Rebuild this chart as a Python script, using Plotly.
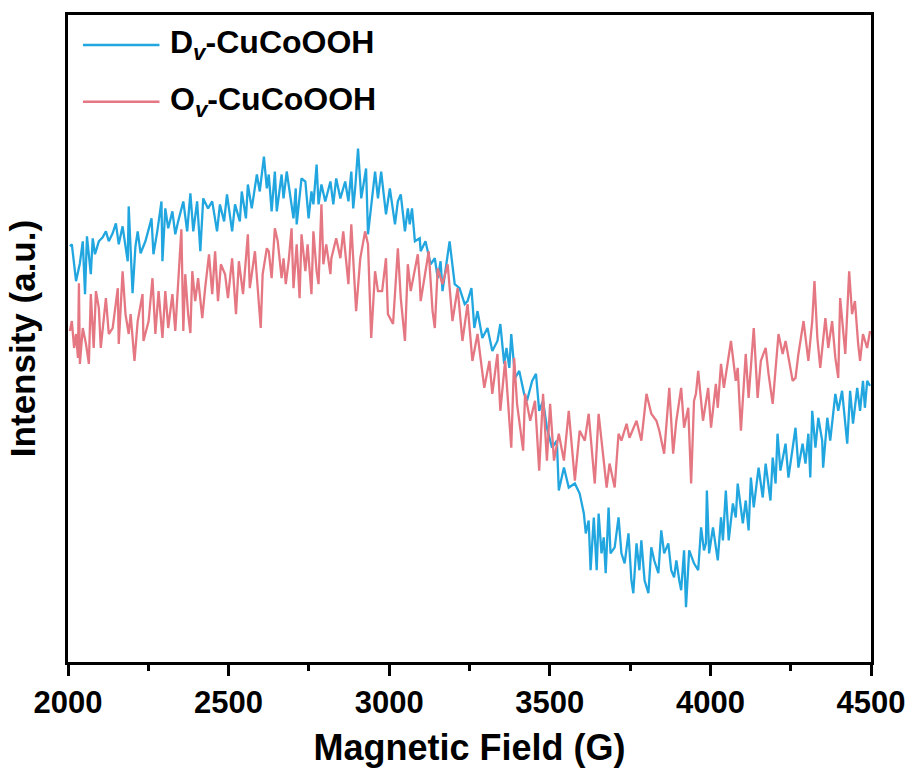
import plotly.graph_objects as go

# ---- data (field in G, intensity in arbitrary units) ----
dv_field = [2006, 2012, 2025, 2037, 2046, 2053, 2059, 2071, 2077, 2084, 2096, 2108, 2118, 2127, 2139, 2149,
            2158, 2170, 2179, 2186, 2189, 2201, 2210, 2217, 2226, 2241, 2251, 2260, 2266, 2278, 2291, 2294,
            2303, 2312, 2325, 2334, 2343, 2359, 2371, 2381, 2390, 2402, 2412, 2421, 2436, 2449, 2464, 2473,
            2486, 2495, 2511, 2520, 2535, 2541, 2554, 2560, 2572, 2588, 2597, 2610, 2619, 2625, 2634, 2644,
            2650, 2665, 2671, 2681, 2702, 2709, 2712, 2727, 2739, 2749, 2758, 2764, 2774, 2780, 2789, 2801,
            2817, 2826, 2835, 2848, 2863, 2873, 2882, 2888, 2894, 2903, 2913, 2928, 2934, 2950, 2956, 2965,
            2975, 2990, 3002, 3018, 3027, 3036, 3049, 3058, 3064, 3071, 3080, 3095, 3098, 3113, 3129, 3142,
            3151, 3160, 3166, 3188, 3204, 3219, 3235, 3244, 3256, 3265, 3275, 3290, 3306, 3321, 3337, 3346,
            3358, 3365, 3374, 3380, 3392, 3405, 3420, 3429, 3445, 3457, 3467, 3479, 3491, 3507, 3522, 3528,
            3544, 3559, 3578, 3593, 3606, 3612, 3621, 3627, 3637, 3646, 3652, 3661, 3668, 3674, 3683, 3689,
            3702, 3714, 3723, 3733, 3745, 3754, 3760, 3770, 3779, 3785, 3795, 3807, 3816, 3825, 3838, 3847,
            3856, 3869, 3878, 3887, 3894, 3903, 3909, 3918, 3924, 3934, 3949, 3962, 3971, 3980, 3986, 3989,
            3996, 4008, 4023, 4033, 4039, 4048, 4057, 4070, 4079, 4085, 4101, 4110, 4119, 4126, 4135, 4150,
            4163, 4172, 4181, 4187, 4194, 4203, 4209, 4218, 4234, 4243, 4265, 4274, 4287, 4296, 4305, 4311,
            4317, 4327, 4336, 4348, 4351, 4364, 4373, 4389, 4398, 4410, 4426, 4435, 4444, 4457, 4466, 4475,
            4481, 4488, 4497]
dv_intensity = [417, 419, 382, 400, 422, 369, 427, 389, 425, 409, 422, 426, 432, 422, 430, 440,
                419, 437, 417, 402, 457, 370, 417, 432, 410, 422, 434, 445, 409, 432, 462, 402,
                455, 435, 452, 429, 442, 462, 432, 470, 432, 462, 412, 465, 455, 462, 432, 459,
                442, 469, 432, 459, 442, 472, 445, 479, 455, 489, 472, 507, 475, 489, 452, 492,
                452, 489, 465, 492, 445, 475, 439, 485, 482, 445, 472, 459, 499, 459, 479, 462,
                482, 459, 485, 465, 482, 462, 492, 455, 475, 515, 465, 495, 429, 479, 492, 465,
                492, 449, 475, 439, 462, 469, 432, 455, 439, 455, 422, 425, 412, 422, 399, 405,
                385, 402, 372, 422, 379, 375, 359, 362, 375, 335, 352, 325, 335, 312, 322, 339,
                299, 315, 295, 329, 285, 292, 269, 262, 282, 289, 252, 262, 235, 215, 222, 172,
                195, 175, 179, 169, 149, 129, 142, 92, 145, 92, 149, 109, 125, 89, 155, 109,
                115, 145, 109, 99, 129, 82, 69, 119, 92, 122, 82, 69, 115, 102, 89, 132,
                109, 119, 92, 85, 102, 82, 72, 112, 55, 112, 99, 92, 135, 112, 119, 172,
                109, 135, 102, 145, 122, 172, 122, 159, 145, 179, 139, 162, 132, 185, 155, 195,
                165, 199, 179, 162, 205, 179, 229, 192, 219, 185, 235, 195, 219, 199, 229, 185,
                252, 215, 245, 222, 195, 245, 222, 269, 252, 272, 219, 272, 239, 275, 252, 282,
                255, 282, 277]

ov_field = [2006, 2012, 2019, 2025, 2031, 2034, 2037, 2046, 2056, 2065, 2071, 2080, 2087, 2096, 2102, 2118,
            2127, 2139, 2155, 2158, 2170, 2179, 2189, 2195, 2207, 2217, 2232, 2235, 2251, 2263, 2272, 2282,
            2294, 2303, 2312, 2325, 2334, 2343, 2353, 2359, 2365, 2374, 2381, 2387, 2396, 2405, 2418, 2427,
            2439, 2449, 2458, 2467, 2476, 2489, 2498, 2511, 2523, 2532, 2545, 2560, 2566, 2582, 2600, 2606,
            2619, 2625, 2634, 2644, 2653, 2665, 2671, 2678, 2687, 2696, 2702, 2712, 2721, 2727, 2739, 2746,
            2758, 2764, 2774, 2780, 2789, 2795, 2804, 2817, 2820, 2835, 2848, 2857, 2873, 2882, 2888, 2897,
            2910, 2925, 2934, 2944, 2956, 2965, 2978, 2990, 2996, 3012, 3027, 3036, 3049, 3058, 3067, 3083,
            3089, 3095, 3098, 3113, 3123, 3135, 3142, 3151, 3166, 3182, 3191, 3197, 3213, 3228, 3244, 3259,
            3275, 3296, 3312, 3321, 3337, 3346, 3361, 3380, 3389, 3398, 3417, 3423, 3439, 3454, 3467, 3479,
            3491, 3501, 3513, 3528, 3544, 3559, 3569, 3578, 3593, 3609, 3621, 3631, 3640, 3652, 3668, 3677,
            3686, 3702, 3714, 3723, 3739, 3748, 3770, 3785, 3801, 3816, 3832, 3841, 3856, 3872, 3884, 3894,
            3909, 3918, 3931, 3940, 3949, 3955, 3962, 3977, 3993, 4002, 4017, 4023, 4033, 4042, 4064, 4079,
            4085, 4095, 4110, 4119, 4135, 4147, 4157, 4172, 4181, 4194, 4212, 4225, 4234, 4256, 4265, 4274,
            4290, 4305, 4317, 4324, 4333, 4342, 4358, 4367, 4379, 4389, 4398, 4404, 4420, 4432, 4441, 4450,
            4460, 4466, 4475, 4488, 4497]
ov_intensity = [332, 342, 315, 329, 305, 380, 299, 335, 319, 299, 369, 315, 372, 355, 315, 365,
                329, 335, 375, 319, 392, 349, 329, 349, 302, 342, 369, 322, 342, 385, 329, 372,
                325, 372, 335, 369, 332, 379, 434, 332, 389, 349, 330, 392, 362, 385, 345, 375,
                409, 369, 412, 362, 399, 389, 365, 405, 349, 402, 369, 429, 375, 412, 335, 389,
                415, 412, 385, 435, 422, 385, 405, 379, 402, 435, 375, 419, 365, 429, 392, 419,
                369, 432, 392, 379, 459, 399, 419, 389, 405, 425, 405, 432, 379, 439, 399, 352,
                405, 432, 419, 325, 392, 372, 372, 405, 349, 339, 415, 365, 322, 399, 372, 399,
                409, 382, 362, 392, 412, 352, 335, 395, 379, 399, 359, 342, 375, 322, 359, 302,
                329, 275, 302, 269, 309, 252, 302, 215, 305, 259, 212, 269, 242, 262, 192, 269,
                202, 259, 202, 229, 202, 252, 215, 182, 232, 222, 249, 209, 179, 249, 199, 175,
                199, 175, 229, 222, 239, 225, 242, 222, 269, 249, 242, 232, 209, 275, 209, 242,
                275, 235, 255, 179, 262, 269, 292, 242, 275, 235, 279, 255, 299, 275, 322, 282,
                295, 232, 309, 265, 335, 265, 302, 315, 289, 259, 329, 309, 322, 282, 285, 309,
                342, 302, 342, 382, 325, 295, 345, 315, 342, 305, 285, 365, 309, 392, 349, 362,
                319, 302, 329, 315, 332]

series_names = ["D<sub><i>v</i></sub>-CuCoOOH", "O<sub><i>v</i></sub>-CuCoOOH"]
series_colors = ["#22A6DF", "#E57782"]
x_tickvals = [2000, 2500, 3000, 3500, 4000, 4500]

FONT = "Arial, 'Liberation Sans', sans-serif"

fig = go.Figure()
fig.add_trace(go.Scatter(x=dv_field, y=dv_intensity, mode="lines", name=series_names[0],
                         line=dict(color=series_colors[0], width=2.3), showlegend=False))
fig.add_trace(go.Scatter(x=ov_field, y=ov_intensity, mode="lines", name=series_names[1],
                         line=dict(color=series_colors[1], width=2.3), showlegend=False))

# manual legend (paper coordinates)
leg_rows = [0.9538, 0.866]
for name, color, yy in zip(series_names, series_colors, leg_rows):
    fig.add_shape(type="line", xref="paper", yref="paper", x0=0.0186, x1=0.1139, y0=yy, y1=yy,
                  line=dict(color=color, width=2.5))
    fig.add_annotation(xref="paper", yref="paper", x=0.124, y=yy, xanchor="left", yanchor="middle",
                       text="<b>" + name + "</b>", showarrow=False,
                       font=dict(family=FONT, size=32, color="black"))

fig.update_layout(
    width=917, height=776,
    margin=dict(l=68, r=41, t=13, b=114),
    paper_bgcolor="white", plot_bgcolor="white",
    font=dict(family=FONT, color="black"),
)
fig.update_xaxes(
    range=[2000, 4500], tickvals=x_tickvals, ticktext=[str(v) for v in x_tickvals],
    showline=True, linecolor="black", linewidth=3, mirror=True,
    ticks="outside", ticklen=11, tickwidth=2.5, tickcolor="black",
    minor=dict(dtick=250, tick0=2000, ticks="outside", ticklen=6, tickwidth=2.5, tickcolor="black"),
    showgrid=False, zeroline=False,
    tickfont=dict(family=FONT, size=31, color="black", weight="bold"),
    title=dict(text="<b>Magnetic Field (G)</b>", font=dict(family=FONT, size=36, color="black"), standoff=16),
)
fig.update_yaxes(
    range=[0, 649], showline=True, linecolor="black", linewidth=3, mirror=True,
    ticks="", showticklabels=False, showgrid=False, zeroline=False,
    title=dict(text="<b>Intensity (a.u.)</b>", font=dict(family=FONT, size=35, color="black"), standoff=19),
)

fig.write_html("out.html")
